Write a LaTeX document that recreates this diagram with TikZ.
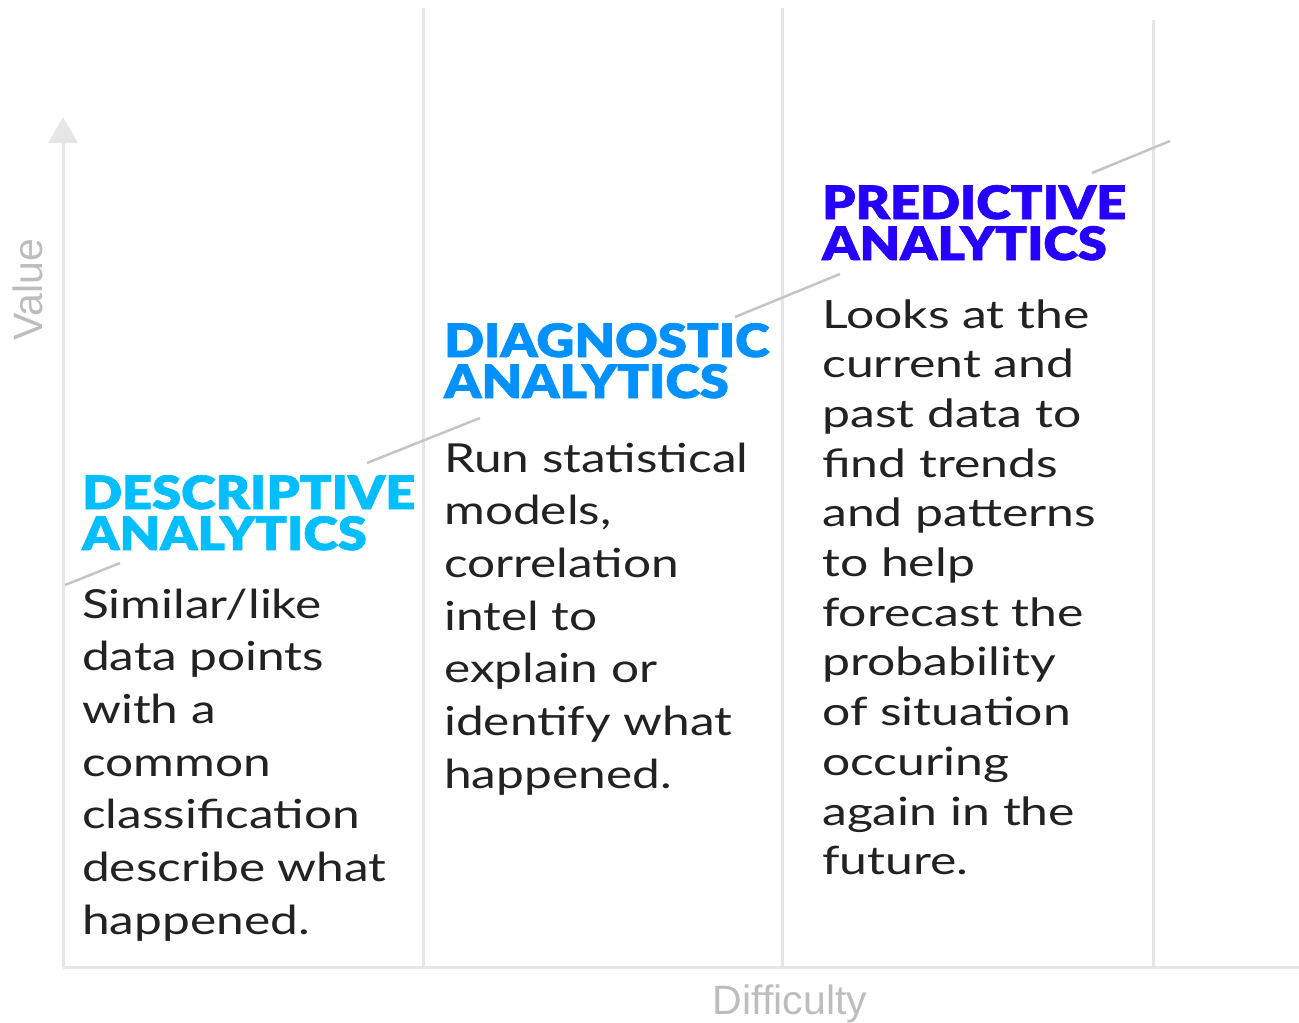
\documentclass[tikz,border=0pt]{standalone}
\usepackage{fontspec}
\setmainfont{Lato}
\newfontfamily\bodyfont{Lato}[FakeStretch=1.24]
\newfontfamily\predfont{Lato}[FakeStretch=1.28]
\newfontfamily\headfont{Lato Black}[FakeStretch=1.14, FakeBold=1.5]
\newfontfamily\axisfont{Liberation Sans}
\definecolor{gridgray}{HTML}{E6E6E6}
\definecolor{diaggray}{HTML}{C4C4C4}
\definecolor{labelgray}{HTML}{BDBDBD}
\definecolor{bodygray}{HTML}{222222}
\definecolor{desccol}{HTML}{00BEFF}
\definecolor{diagcol}{HTML}{0091FF}
\definecolor{predcol}{HTML}{2600FF}
\tikzset{
  gridline/.style={draw=gridgray, line width=3pt},
  stepline/.style={draw=diaggray, line width=2.5pt},
  headtext/.style={anchor=base west, inner sep=0pt, font=\headfont\fontsize{46}{41}\selectfont},
  bodytext/.style={anchor=base west, inner sep=0pt, text=bodygray, font=\bodyfont\fontsize{40}{52.7}\selectfont},
  predbody/.style={bodytext, font=\predfont\fontsize{39}{49.7}\selectfont},
  axislabel/.style={inner sep=0pt, text=labelgray, font=\axisfont\fontsize{41}{41}\selectfont}
}
\begin{document}
\begin{tikzpicture}[x=1pt,y=-1pt]
\useasboundingbox (0,0) rectangle (1299,1023);
% axes
\coordinate (origin) at (63,967);
\coordinate (xend) at (1299,967);
\coordinate (ybase) at (63,143);
\coordinate (ytip) at (63,117);
\coordinate (yl) at (48,143);
\coordinate (yr) at (78,143);
\draw[gridline] (origin) -- (ybase);
\fill[gridgray] (ytip) -- (yr) -- (yl) -- cycle;
% column lines
\coordinate (c1t) at (423,8);  \coordinate (c1b) at (423,967);
\coordinate (c2t) at (782,8);  \coordinate (c2b) at (782,967);
\coordinate (c3t) at (1153,20); \coordinate (c3b) at (1153,967);
\draw[gridline] (c1t) -- (c1b);
\draw[gridline] (c2t) -- (c2b);
\draw[gridline] (c3t) -- (c3b);
\draw[gridline] (origin) -- (xend);
% step lines
\coordinate (s1a) at (65,585);   \coordinate (s1b) at (120,563);
\coordinate (s2a) at (367,463);  \coordinate (s2b) at (480,418);
\coordinate (s3a) at (735,317);  \coordinate (s3b) at (840,274);
\coordinate (s4a) at (1092,173); \coordinate (s4b) at (1170,141);
\draw[stepline] (s1a) -- (s1b);
\draw[stepline] (s2a) -- (s2b);
\draw[stepline] (s3a) -- (s3b);
\draw[stepline] (s4a) -- (s4b);
% axis labels
\node[axislabel, rotate=90, anchor=base] (value) at (42,290) {Value};
\node[axislabel, anchor=base] (difficulty) at (790,1014) {Difficulty};
% headings
\node[headtext, text=desccol] (desch) at (82,509) {\parbox[t]{340pt}{DESCRIPTIVE\\ANALYTICS}};
\node[headtext, text=diagcol] (diagh) at (444,357) {\parbox[t]{340pt}{DIAGNOSTIC\\ANALYTICS}};
\node[headtext, text=predcol] (predh) at (822,219) {\parbox[t]{340pt}{PREDICTIVE\\ANALYTICS}};
% bodies
\node[bodytext] (descb) at (82,618) {\parbox[t]{340pt}{Similar/like\\data points\\with a\\common\\classification\\describe what\\happened.}};
\node[bodytext] (diagb) at (444,472) {\parbox[t]{340pt}{Run statistical\\models,\\correlation\\intel to\\explain or\\identify what\\happened.}};
\node[predbody] (predb) at (822,328) {\parbox[t]{340pt}{Looks at the\\current and\\past data to\\find trends\\and patterns\\to help\\forecast the\\probability\\of situation\\occuring\\again in the\\future.}};
\end{tikzpicture}
\end{document}
